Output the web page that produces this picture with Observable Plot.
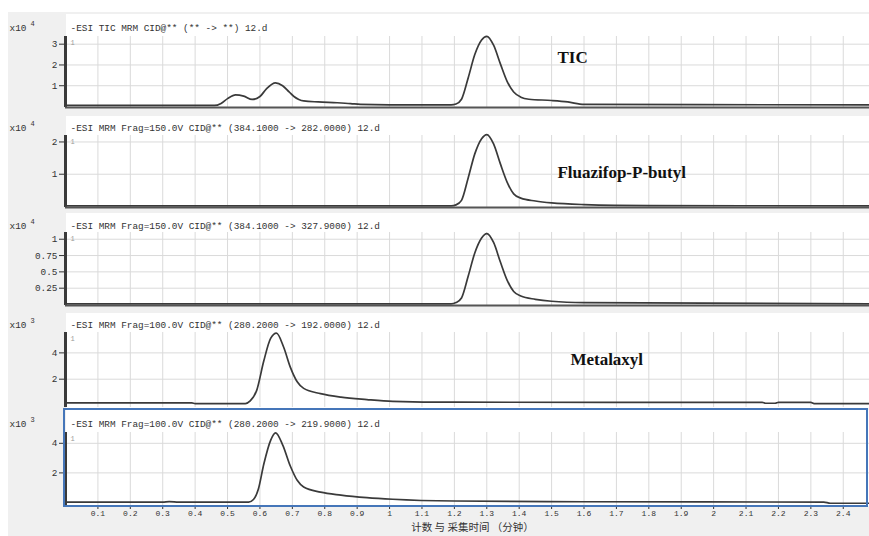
<!DOCTYPE html>
<html><head><meta charset="utf-8">
<script src="https://cdn.jsdelivr.net/npm/d3@7"></script>
<script src="https://cdn.jsdelivr.net/npm/@observablehq/plot@0.6"></script>
<style>
html,body{margin:0;padding:0;background:#fff;}
#wrap{position:relative;width:869px;height:536px;overflow:hidden;background:#fff;}
#gray{position:absolute;left:8px;top:12px;right:0;bottom:0;background:#f0f0f0;}
.white{position:absolute;background:#fff;}
.panel{position:absolute;left:0;}
#box{position:absolute;border:2px solid #4576b9;box-sizing:border-box;pointer-events:none;}
</style></head><body><div id="wrap"><div id="gray"></div></div>
<script>
// ---------- data ----------
const xTicks = [0.1,0.2,0.3,0.4,0.5,0.6,0.7,0.8,0.9,1,1.1,1.2,1.3,1.4,1.5,1.6,1.7,1.8,1.9,2,2.1,2.2,2.3,2.4];
const xTitle = "计数 与 采集时间 （分钟）";
const headers = [
  "-ESI TIC MRM CID@** (** -> **) 12.d",
  "-ESI MRM Frag=150.0V CID@** (384.1000 -> 282.0000) 12.d",
  "-ESI MRM Frag=150.0V CID@** (384.1000 -> 327.9000) 12.d",
  "-ESI MRM Frag=100.0V CID@** (280.2000 -> 192.0000) 12.d",
  "-ESI MRM Frag=100.0V CID@** (280.2000 -> 219.9000) 12.d"
];
const exponents = ["4","4","4","3","3"];
const compoundLabels = ["TIC","Fluazifop-P-butyl","","Metalaxyl",""];
const yTicks1 = [1,2,3];
const yTicks2 = [1,2];
const yTicks3 = [0.25,0.5,0.75,1];
const yTicks4 = [2,4];
const yTicks5 = [2,4];
// TIC (x10^4)
const tic = [[0,0.05],[0.46,0.05],[0.48,0.15],[0.50,0.38],[0.525,0.56],[0.55,0.5],[0.576,0.34],[0.60,0.48],[0.62,0.85],[0.648,1.14],[0.67,1.0],[0.69,0.7],[0.705,0.48],[0.72,0.34],[0.735,0.27],[0.78,0.22],[0.838,0.18],[0.88,0.14],[0.91,0.1],[1.0,0.08],[1.19,0.08],[1.205,0.12],[1.222,0.35],[1.243,1.4],[1.263,2.5],[1.284,3.2],[1.30,3.38],[1.321,2.95],[1.342,2.05],[1.363,1.2],[1.383,0.7],[1.405,0.45],[1.43,0.35],[1.50,0.29],[1.55,0.22],[1.60,0.1],[2.481,0.08]];
// 384.1 -> 282.0 (x10^4)
const fluaz282 = [[0,0.02],[1.19,0.02],[1.205,0.05],[1.222,0.19],[1.243,0.9],[1.263,1.63],[1.284,2.1],[1.30,2.23],[1.321,1.94],[1.342,1.32],[1.363,0.75],[1.383,0.39],[1.405,0.26],[1.45,0.17],[1.50,0.11],[1.60,0.06],[1.80,0.03],[2.481,0.02]];
// 384.1 -> 327.9 (x10^4)
const fluaz328 = [[0,0.01],[1.19,0.01],[1.205,0.03],[1.222,0.1],[1.243,0.44],[1.263,0.79],[1.284,1.02],[1.30,1.087],[1.321,0.95],[1.342,0.65],[1.363,0.37],[1.383,0.2],[1.405,0.13],[1.45,0.08],[1.50,0.05],[1.60,0.03],[2.481,0.01]];
// 280.2 -> 192.0 (x10^3)
const metal192 = [[0,0.2],[0.39,0.2],[0.4,0.15],[0.555,0.15],[0.57,0.35],[0.59,1.15],[0.612,3.4],[0.633,5.1],[0.651,5.5],[0.673,4.45],[0.694,2.9],[0.715,1.8],[0.735,1.3],[0.787,0.9],[0.85,0.63],[0.93,0.45],[1.01,0.32],[1.2,0.25],[2.15,0.24],[2.16,0.17],[2.19,0.17],[2.2,0.24],[2.3,0.24],[2.31,0.15],[2.481,0.15]];
// 280.2 -> 219.9 (x10^3)
const metal220 = [[0,0.02],[0.3,0.02],[0.32,0.06],[0.35,0.02],[0.565,0.02],[0.58,0.2],[0.595,0.9],[0.612,2.6],[0.633,4.2],[0.648,4.7],[0.67,3.9],[0.694,2.45],[0.715,1.5],[0.735,1.05],[0.787,0.7],[0.85,0.5],[0.93,0.33],[1.01,0.22],[1.2,0.1],[1.6,0.05],[2.34,0.03],[2.36,-0.05],[2.481,-0.05]];

// ---------- layout ----------
const panels = [
  {data: tic, yTicks: yTicks1, domain: [-0.048, 3.37], top: 12, mt: 24, mb: 2, plotH: 71, hdy: -12.5, white: [14, 107], rule: true, lab: {x: 1.518, y: 2.36}},
  {data: fluaz282, yTicks: yTicks2, domain: [-0.031, 2.2], top: 113, mt: 22, mb: 2, plotH: 72, hdy: -11, white: [116, 207], rule: true, lab: {x: 1.518, y: 1.05}},
  {data: fluaz328, yTicks: yTicks3, domain: [-0.015, 1.103], top: 210, mt: 22, mb: 2, plotH: 73, hdy: -10, white: [213, 305], rule: true, lab: null},
  {data: metal192, yTicks: yTicks4, domain: [-0.152, 5.55], top: 310, mt: 22, mb: 1, plotH: 75, hdy: -11, white: [313, 408], rule: false, lab: {x: 1.558, y: 3.5}},
  {data: metal220, yTicks: yTicks5, domain: [-0.203, 4.73], top: 410, mt: 22, mb: 31, plotH: 73, hdy: -12, white: [410, 506], rule: false, lab: null, last: true}
];

const wrap = document.getElementById("wrap");
const mono = "'Liberation Mono', 'DejaVu Sans Mono', monospace";
const fmt = d => String(d);

panels.forEach((p, i) => {
  const w = document.createElement("div");
  w.className = "white";
  w.style.left = "66px"; w.style.width = "803px";
  w.style.top = p.white[0] + "px"; w.style.height = (p.white[1] - p.white[0]) + "px";
  wrap.appendChild(w);

  const marks = [
    Plot.ruleX(xTicks, {stroke: "#dadada", strokeWidth: 1}),
    Plot.ruleY(p.yTicks, {stroke: "#dadada", strokeWidth: 1}),
    Plot.line(p.data, {x: d => d[0], y: d => d[1], stroke: "#3a3a3a", strokeWidth: 1.7, curve: "monotone-x"}),
    Plot.ruleX([0], {stroke: "#3a3a3a", strokeWidth: 3}),
    Plot.text(["x10"], {text: d => d, frameAnchor: "top-left", dx: -56, dy: p.hdy, textAnchor: "start", fontSize: 9.4, fill: "#333"}),
    Plot.text([exponents[i]], {text: d => d, frameAnchor: "top-left", dx: -35, dy: p.hdy - 3, textAnchor: "start", fontSize: 7, fill: "#333"}),
    Plot.text([headers[i]], {text: d => d, frameAnchor: "top-left", dx: 5, dy: p.hdy, textAnchor: "start", fontSize: 9.4, fill: "#333"}),
    Plot.text(["1"], {text: d => d, frameAnchor: "top-left", dx: 5, dy: 4, textAnchor: "start", fontSize: 7, fill: "#999"})
  ];
  if (p.rule) marks.push(Plot.ruleY([p.domain[0]], {stroke: "#555", strokeWidth: 2}));
  if (p.lab && compoundLabels[i]) marks.push(Plot.text([compoundLabels[i]], {text: d => d, x: () => p.lab.x, y: () => p.lab.y, textAnchor: "start", fontFamily: "'Liberation Serif', serif", fontWeight: "bold", fontSize: 17, fill: "#111"}));
  if (p.last) marks.push(Plot.text([xTitle], {text: d => d, frameAnchor: "bottom", dx: 5, dy: 25, fontFamily: "'Noto Sans CJK SC', sans-serif", fontSize: 10.5, fill: "#333"}));

  const chart = Plot.plot({
    width: 869,
    height: p.mt + p.plotH + p.mb,
    marginLeft: 65, marginRight: 0, marginTop: p.mt, marginBottom: p.mb,
    style: {background: "transparent", fontFamily: mono, fontSize: "9.4px", color: "#333", overflow: "visible"},
    x: p.last ? {domain: [0, 2.481], ticks: xTicks, tickSize: 4, tickPadding: 1, tickFormat: fmt, label: null} : {domain: [0, 2.481], axis: null},
    y: {domain: p.domain, ticks: p.yTicks, tickSize: 6, tickPadding: 2, tickFormat: fmt, label: null},
    marks
  });
  const holder = document.createElement("div");
  holder.className = "panel";
  holder.style.top = p.top + "px";
  holder.appendChild(chart);
  wrap.appendChild(holder);
  if (p.last) {
    d3.select(chart).selectAll('[aria-label^="x-axis"] text').style("font-size", "8px");
  }
});

const box = document.createElement("div");
box.id = "box";
box.style.left = "63px"; box.style.top = "408px"; box.style.width = "805px"; box.style.height = "99px";
wrap.appendChild(box);
</script>
</body></html>
